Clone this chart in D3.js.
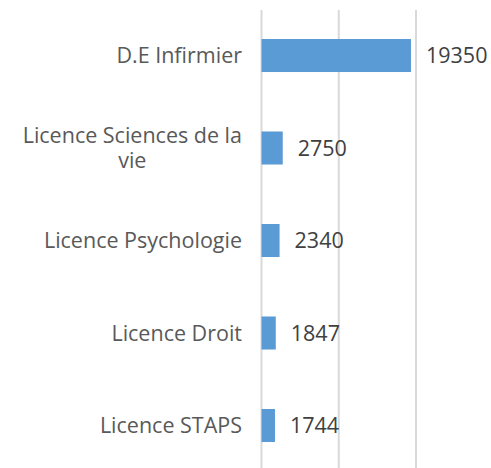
<!DOCTYPE html>
<html>
<head>
<meta charset="utf-8">
<script src="https://cdn.jsdelivr.net/npm/d3@7"></script>
<style>
  body { margin: 0; background: #fff; }
  text { font-family: "Open Sans", sans-serif; }
</style>
</head>
<body>
<div id="chart"></div>
<script>
const categories = [
  "D.E Infirmier",
  "Licence Sciences de la vie",
  "Licence Psychologie",
  "Licence Droit",
  "Licence STAPS"
];
const values = [19350, 2750, 2340, 1847, 1744];
const gridTicks = [0, 10000, 20000];

const drawChart = () => {
  const width = 491;
  const height = 468;
  const left = 261.5;
  const right = 416;

  const svg = d3
    .select("#chart")
    .append("svg")
    .attr("width", width)
    .attr("height", height);

  const x = d3.scaleLinear().domain([0, 20000]).range([left, right]);

  const y = d3
    .scaleBand()
    .domain(categories)
    .range([9.26, 471.76])
    .paddingInner(0.643)
    .paddingOuter(0.3215);

  // vertical gridlines
  svg
    .append("g")
    .selectAll("line")
    .data(gridTicks)
    .enter()
    .append("line")
    .attr("x1", (d) => x(d))
    .attr("x2", (d) => x(d))
    .attr("y1", 10)
    .attr("y2", 472)
    .attr("stroke", "#d9d9d9")
    .attr("stroke-width", 2);

  const data = categories.map((c, i) => ({ name: c, value: values[i] }));

  svg
    .append("g")
    .selectAll("rect")
    .data(data)
    .enter()
    .append("rect")
    .attr("x", x(0))
    .attr("y", (d) => y(d.name))
    .attr("width", (d) => x(d.value) - x(0))
    .attr("height", y.bandwidth())
    .attr("fill", "#5b9bd5");

  // value labels
  svg
    .append("g")
    .selectAll("text")
    .data(data)
    .enter()
    .append("text")
    .attr("x", (d) => x(d.value) + 15)
    .attr("y", (d) => y(d.name) + y.bandwidth() / 2)
    .attr("dy", "0.35em")
    .attr("fill", "#404040")
    .style("font-size", "21.5px")
    .text((d) => d.value);

  // category labels, wrapped when too long
  const labelRight = 242;
  const maxWidth = 232;
  const lineHeight = 25;
  const labels = svg.append("g");

  categories.forEach((c) => {
    const t = labels
      .append("text")
      .attr("fill", "#595959")
      .style("font-size", "21.5px");
    const words = c.split(" ");
    let lines = [];
    let line = [];
    words.forEach((w) => {
      line.push(w);
      t.text(line.join(" "));
      if (t.node().getComputedTextLength() > maxWidth && line.length > 1) {
        line.pop();
        lines.push(line.join(" "));
        line = [w];
      }
    });
    lines.push(line.join(" "));
    t.text(null);

    const cy = y(c) + y.bandwidth() / 2;
    const top = cy - ((lines.length - 1) * lineHeight) / 2;
    if (lines.length === 1) {
      t.attr("x", labelRight)
        .attr("y", cy)
        .attr("dy", "0.35em")
        .attr("text-anchor", "end")
        .text(lines[0]);
    } else {
      let widest = 0;
      lines.forEach((l) => {
        t.text(l);
        widest = Math.max(widest, t.node().getComputedTextLength());
      });
      t.text(null).attr("text-anchor", "middle");
      lines.forEach((l, i) => {
        t.append("tspan")
          .attr("x", labelRight - widest / 2)
          .attr("y", top + i * lineHeight)
          .attr("dy", "0.35em")
          .text(l);
      });
    }
  });
};

drawChart();
</script>
</body>
</html>
